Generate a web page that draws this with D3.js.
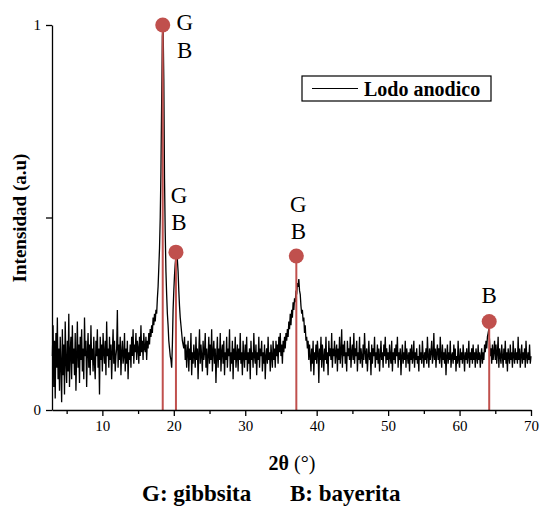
<!DOCTYPE html>
<html>
<head>
<meta charset="utf-8">
<script src="https://cdn.jsdelivr.net/npm/d3@7"></script>
<style>
  body { margin: 0; background: #fff; }
  svg text { font-family: "Liberation Serif", "Times New Roman", serif; }
</style>
</head>
<body>
<script>
// scan grid (2θ, degrees)
const scanStart = 3.0;
const scanStep = 0.1;

// normalised intensity, one value per 0.1° step from 3.0° to 70.0°
const intensity = [
  // 3 - 9
  .14,.22,.06,.18,.03,.20,.11,.24,.08,.16,
  .05,.19,.12,.02,.21,.09,.17,.04,.23,.13,
  .07,.18,.10,.25,.06,.15,.19,.08,.22,.12,
  .16,.09,.20,.05,.14,.23,.11,.17,.07,.19,
  .13,.21,.10,.16,.08,.24,.14,.18,.06,.15,
  .20,.11,.17,.09,.22,.13,.16,.10,.19,.12,
  .08,.18,.14,.21,.11,.16,.04,.19,.13,.17,
  // 10 - 16
  .10,.20,.15,.12,.18,.09,.23,.14,.16,.11,
  .19,.13,.17,.08,.15,.21,.12,.18,.10,.14,
  .16,.26,.11,.17,.13,.19,.09,.15,.18,.12,
  .14,.20,.10,.16,.12,.18,.08,.15,.13,.17,
  .11,.19,.14,.21,.12,.17,.15,.20,.13,.18,
  .16,.12,.19,.14,.22,.15,.18,.13,.20,.16,
  .15,.19,.13,.18,.16,.20,.17,.21,.19,.22,
  // 17 - 21 (main reflections)
  .20,.24,.22,.25,.23,.26,.25,.29,.32,.37,
  .42,.50,.62,.80,.97,1.00,.86,.60,.46,.36,
  .30,.25,.22,.18,.16,.14,.13,.11,.17,.26,
  .31,.35,.38,.40,.41,.39,.36,.31,.27,.24,
  .22,.20,.18,.17,.16,.19,.13,.17,.11,.15,
  // 22 - 34
  .18,.10,.16,.13,.20,.09,.15,.12,.17,.14,
  .11,.19,.13,.16,.08,.15,.21,.12,.17,.14,
  .10,.18,.13,.15,.20,.11,.16,.09,.14,.19,
  .12,.17,.13,.21,.10,.15,.18,.12,.16,.07,
  .14,.19,.11,.16,.13,.20,.10,.15,.17,.12,
  .18,.09,.15,.13,.19,.11,.16,.14,.21,.10,
  .15,.12,.18,.08,.16,.13,.19,.11,.14,.17,
  .10,.16,.13,.20,.12,.15,.09,.18,.14,.11,
  .17,.13,.19,.10,.15,.12,.16,.08,.18,.13,
  .15,.11,.20,.14,.12,.17,.09,.15,.13,.19,
  .11,.16,.14,.18,.10,.15,.12,.17,.08,.14,
  .16,.12,.19,.13,.15,.10,.17,.14,.11,.18,
  .13,.16,.11,.18,.14,.17,.12,.19,.15,.20,
  // 35 - 39
  .14,.17,.12,.18,.15,.19,.16,.20,.18,.21,
  .19,.23,.21,.25,.22,.26,.24,.28,.26,.29,
  .28,.31,.30,.33,.32,.34,.31,.30,.27,.25,
  .26,.23,.24,.20,.22,.18,.19,.16,.18,.13,
  .17,.14,.10,.16,.12,.18,.09,.15,.13,.17,
  // 40 - 62
  .12,.18,.15,.07,.16,.13,.19,.11,.17,.14,
  .10,.16,.13,.19,.12,.15,.09,.18,.14,.16,
  .13,.20,.11,.16,.14,.18,.12,.15,.17,.10,
  .16,.13,.19,.12,.15,.21,.11,.17,.14,.18,
  .12,.15,.10,.18,.14,.16,.13,.19,.11,.15,
  .17,.13,.20,.12,.16,.14,.18,.10,.15,.13,
  .19,.12,.16,.14,.11,.17,.13,.20,.15,.12,
  .16,.10,.14,.18,.13,.15,.09,.17,.12,.16,
  .14,.19,.11,.15,.13,.17,.12,.16,.10,.14,
  .18,.13,.15,.11,.17,.14,.19,.12,.16,.13,
  .15,.11,.17,.14,.12,.18,.10,.15,.13,.16,
  .12,.17,.14,.19,.11,.15,.13,.16,.09,.14,
  .17,.12,.15,.13,.18,.11,.16,.14,.12,.15,
  .10,.16,.13,.17,.12,.14,.18,.11,.15,.13,
  .16,.12,.14,.10,.17,.13,.15,.12,.18,.14,
  .11,.15,.13,.16,.12,.19,.14,.11,.16,.13,
  .15,.18,.12,.14,.20,.13,.16,.11,.15,.17,
  .13,.16,.12,.19,.14,.11,.17,.13,.15,.12,
  .16,.09,.14,.17,.12,.15,.13,.18,.11,.14,
  .15,.12,.17,.13,.16,.10,.14,.12,.18,.13,
  .11,.16,.13,.15,.12,.17,.14,.10,.15,.13,
  .16,.12,.14,.18,.11,.15,.13,.16,.12,.17,
  .13,.15,.11,.16,.14,.12,.17,.13,.15,.11,
  // 63 - 70
  .14,.16,.12,.15,.13,.17,.15,.18,.16,.19,
  .20,.21,.18,.14,.16,.12,.17,.13,.15,.18,
  .13,.17,.12,.15,.19,.11,.16,.14,.12,.17,
  .14,.11,.16,.13,.18,.12,.15,.10,.16,.14,
  .12,.17,.13,.15,.11,.18,.14,.12,.16,.13,
  .15,.12,.19,.13,.16,.11,.14,.17,.12,.15,
  .13,.16,.11,.18,.14,.12,.15,.13,.17,.12,
  .14
];

// identified reflections
const peakAngles = [18.45, 20.3, 37.15, 64.15];
const peakMarks = [1.0, 0.41, 0.40, 0.23];
const peakLabels = [["G", "B"], ["G", "B"], ["G", "B"], ["B"]];

// axis ticks
const xMajorTicks = [10, 20, 30, 40, 50, 60, 70];
const xMinorTicks = [5, 15, 25, 35, 45, 55, 65];
const yTicks = [0, 0.5, 1];
const yTickLabels = { 0: "0", 1: "1" };

const seriesName = "Lodo anodico";
const legendNote = ["G: gibbsita", "B: bayerita"];

// layout
const W = 541, H = 506;
const red = "#c0504d";
const serif = "'Liberation Serif', 'Times New Roman', serif";

const svg = d3.select("body").append("svg")
  .attr("width", W)
  .attr("height", H)
  .attr("font-family", serif);

const x = d3.scaleLinear().domain([2.95, 70]).range([52, 531]);
const y = d3.scaleLinear().domain([0, 1]).range([410, 25]);

// data trace
const line = d3.line()
  .x((d, i) => x(scanStart + i * scanStep))
  .y((d) => y(d));

svg.append("path")
  .attr("d", line(intensity))
  .attr("fill", "none")
  .attr("stroke", "#000")
  .attr("stroke-width", 1.3)
  .attr("stroke-linejoin", "miter");

// drop lines + markers
const peaks = svg.append("g");
peaks.selectAll("line")
  .data(peakAngles)
  .join("line")
  .attr("x1", (d) => x(d))
  .attr("x2", (d) => x(d))
  .attr("y1", y(0))
  .attr("y2", (d, i) => y(peakMarks[i]))
  .attr("stroke", red)
  .attr("stroke-width", 2);

peaks.selectAll("circle")
  .data(peakAngles)
  .join("circle")
  .attr("cx", (d) => x(d))
  .attr("cy", (d, i) => y(peakMarks[i]))
  .attr("r", 7.5)
  .attr("fill", red);

// label placement relative to the marker: [dx, dy of last line]
const labelOffsets = [[22, 5], [3, -22], [2, -17], [0, -18]];
peakAngles.forEach((a, i) => {
  const labs = peakLabels[i];
  const [dx, dy] = labelOffsets[i];
  const cx = x(a) + dx;
  const baseY = y(peakMarks[i]) + dy;
  labs.forEach((t, j) => {
    const lineY = i === 0
      ? baseY + j * 28
      : baseY - (labs.length - 1 - j) * 27;
    svg.append("text")
      .attr("x", cx)
      .attr("y", lineY)
      .attr("text-anchor", "middle")
      .attr("font-size", 23)
      .attr("fill", "#000")
      .text(t);
  });
});

// axes
const gx = svg.append("g")
  .attr("transform", `translate(0,${y(0)})`)
  .call(d3.axisBottom(x).tickValues(xMajorTicks).tickSize(6).tickSizeOuter(0).tickPadding(4));
gx.append("g")
  .call(d3.axisBottom(x).tickValues(xMinorTicks).tickSize(4).tickSizeOuter(0).tickFormat(""))
  .call((g) => g.select(".domain").remove());

const gy = svg.append("g")
  .attr("transform", `translate(${x.range()[0]},0)`)
  .call(d3.axisLeft(y).tickValues(yTicks).tickSize(6).tickSizeOuter(0).tickPadding(5)
    .tickFormat((d) => yTickLabels[d] || ""));

[gx, gy].forEach((g) => {
  g.attr("font-family", serif);
  g.selectAll("text")
    .attr("font-size", 15)
    .attr("fill", "#000");
  g.selectAll("line, path").attr("stroke", "#000").attr("stroke-width", 1.3);
});

// axis titles
svg.append("text")
  .attr("x", 292)
  .attr("y", 470)
  .attr("text-anchor", "middle")
  .attr("font-size", 20)
  .call((t) => {
    t.append("tspan").attr("font-weight", "bold").text("2θ");
    t.append("tspan").text(" (°)");
  });

svg.append("text")
  .attr("transform", "translate(26,218) rotate(-90)")
  .attr("text-anchor", "middle")
  .attr("font-size", 19)
  .attr("font-weight", "bold")
  .text("Intensidad (a.u)");

// legend
const lg = svg.append("g").attr("transform", "translate(302,76)");
lg.append("rect")
  .attr("width", 189)
  .attr("height", 25)
  .attr("fill", "#fff")
  .attr("stroke", "#000")
  .attr("stroke-width", 1.2);
lg.append("line")
  .attr("x1", 10).attr("x2", 56)
  .attr("y1", 12.5).attr("y2", 12.5)
  .attr("stroke", "#000")
  .attr("stroke-width", 1);
lg.append("text")
  .attr("x", 62)
  .attr("y", 19.5)
  .attr("font-size", 20)
  .attr("font-weight", "bold")
  .text(seriesName);

// footnote
svg.append("text")
  .attr("x", 142).attr("y", 501)
  .attr("font-size", 23).attr("font-weight", "bold")
  .text(legendNote[0]);
svg.append("text")
  .attr("x", 290).attr("y", 501)
  .attr("font-size", 23).attr("font-weight", "bold")
  .text(legendNote[1]);
</script>
</body>
</html>
